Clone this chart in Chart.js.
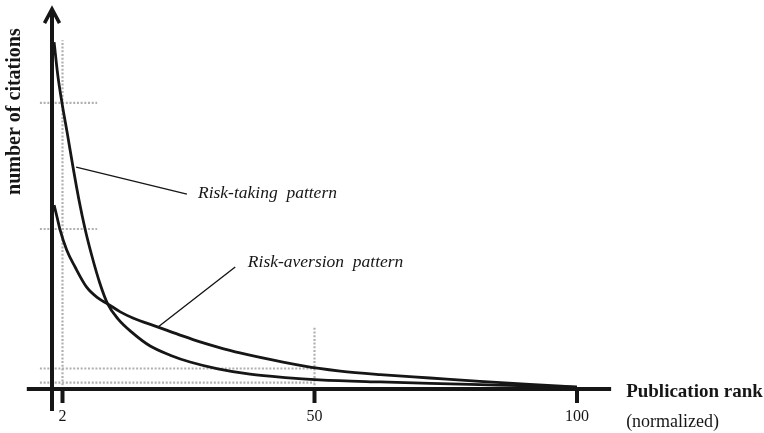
<!DOCTYPE html>
<html>
<head>
<meta charset="utf-8">
<script src="https://cdn.jsdelivr.net/npm/chart.js@4/dist/chart.umd.min.js"></script>
<style>
  html, body { margin: 0; padding: 0; background: #fff; }
</style>
</head>
<body>
<canvas id="chart" width="764" height="433"></canvas>
<script>
// publication rank (normalized) vs number of citations
const riskTakingX   = [0.4, 1.1, 1.9, 2.9, 4.0, 5.1, 6.3, 7.6, 9.1, 10.6, 12.6, 15.4, 18.7, 22.5, 26.3, 31.6, 37.7, 44.4, 50.9, 62.5, 72, 81.5, 91, 100];
const riskTakingY   = [91.3, 82.6, 75.3, 67.4, 58.4, 50.0, 42.1, 35.0, 27.9, 22.4, 18.4, 14.7, 11.3, 8.9, 7.1, 5.3, 3.9, 3.0, 2.4, 1.85, 1.5, 1.15, 0.8, 0.5];
const riskAversionX = [0.4, 1.0, 1.5, 2.8, 4.4, 6.6, 8.8, 10.6, 13.0, 15.4, 20.2, 25.0, 28.2, 31.4, 35.8, 44.0, 50.9, 54.9, 62.5, 72, 81.5, 91, 100];
const riskAversionY = [48.4, 45.0, 42.1, 36.6, 32.1, 26.8, 23.9, 22.4, 20.3, 18.7, 16.3, 13.9, 12.4, 11.1, 9.5, 7.1, 5.4, 4.7, 3.8, 2.9, 2.0, 1.2, 0.5];

const xTickValues = [2, 50, 100];
const xTickLabels = ['2', '50', '100'];

// dotted guides: vertical ones at ranks 2 and 50, horizontal ones at the curve levels there
const guideRanks = [2, 50];
const guideTops = [91.8, 16.3];
const guideLevelsAt2 = [75.3, 42.1];
const guideLevelsAt50 = [5.4, 1.7];

const xTitle = 'Publication rank';
const xSubtitle = '(normalized)';
const yTitle = 'number of citations';
const riskTakingLabel = 'Risk-taking  pattern';
const riskAversionLabel = 'Risk-aversion  pattern';

const serif = '"Liberation Serif", "DejaVu Serif", serif';
const ink = '#161616';
const guideColor = '#b0b0b0';

function toPoints(xs, ys) {
    return xs.map((x, i) => ({x: x, y: ys[i]}));
}

function guideLine(pts) {
    return {
        data: pts, showLine: true, pointRadius: 0, borderColor: guideColor,
        borderWidth: 2.2, borderDash: [2, 1.7], order: 2, tension: 0
    };
}

function guideSets() {
    const sets = [];
    guideRanks.forEach((r, i) => {
        sets.push(guideLine([{x: r, y: 0}, {x: r, y: guideTops[i]}]));
    });
    guideLevelsAt2.forEach(v => sets.push(guideLine([{x: -2.3, y: v}, {x: 8.6, y: v}])));
    guideLevelsAt50.forEach(v => sets.push(guideLine([{x: -2.3, y: v}, {x: 50, y: v}])));
    return sets;
}

const decorations = {
    id: 'decorations',
    afterDatasetsDraw(chart) {
        const ctx = chart.ctx;
        const xs = chart.scales.x, ys = chart.scales.y;
        const px = v => xs.getPixelForValue(v);
        const py = v => ys.getPixelForValue(v);
        const x0 = px(0), y0 = py(0);

        ctx.save();
        ctx.strokeStyle = ink;
        ctx.fillStyle = ink;

        // axes
        ctx.lineWidth = 4;
        ctx.beginPath();
        ctx.moveTo(px(-4.8), y0); ctx.lineTo(px(106.5), y0);
        ctx.moveTo(x0, py(-5.8)); ctx.lineTo(x0, py(99.5));
        ctx.stroke();

        // arrow head on the y axis
        ctx.lineWidth = 3.6;
        ctx.lineJoin = 'miter';
        ctx.beginPath();
        ctx.moveTo(x0 - 7.5, py(96.3));
        ctx.lineTo(x0, py(100));
        ctx.lineTo(x0 + 7.5, py(96.3));
        ctx.stroke();

        // tick marks and labels
        ctx.lineWidth = 4;
        ctx.font = '16px ' + serif;
        ctx.textAlign = 'center';
        ctx.textBaseline = 'middle';
        xTickValues.forEach((v, i) => {
            ctx.beginPath();
            ctx.moveTo(px(v), y0);
            ctx.lineTo(px(v), y0 + 14);
            ctx.stroke();
            ctx.fillText(xTickLabels[i], px(v), y0 + 28);
        });

        // axis titles
        ctx.textAlign = 'left';
        ctx.font = 'bold 19px ' + serif;
        ctx.fillText(xTitle, px(106.5) + 15, y0 + 3);
        ctx.font = '18px ' + serif;
        ctx.fillText(xSubtitle, px(106.5) + 15, y0 + 33);

        ctx.save();
        ctx.translate(15, py(73));
        ctx.rotate(-Math.PI / 2);
        ctx.textAlign = 'center';
        ctx.font = 'bold 20px ' + serif;
        ctx.fillText(yTitle, 0, 0);
        ctx.restore();

        // leader lines and pattern labels
        ctx.lineWidth = 1.4;
        ctx.beginPath();
        ctx.moveTo(px(4.6), py(58.4)); ctx.lineTo(px(25.7), py(51.3));
        ctx.moveTo(px(20.2), py(16.3)); ctx.lineTo(px(34.9), py(32.1));
        ctx.stroke();

        ctx.font = 'italic 17.5px ' + serif;
        ctx.textAlign = 'left';
        ctx.fillText(riskTakingLabel, px(27.8), py(51.6));
        ctx.fillText(riskAversionLabel, px(37.3), py(33.2));
        ctx.restore();
    }
};

new Chart(document.getElementById('chart').getContext('2d'), {
    type: 'scatter',
    data: {
        datasets: [
            {
                label: 'Risk-taking pattern',
                data: toPoints(riskTakingX, riskTakingY),
                showLine: true, pointRadius: 0, borderColor: ink, borderWidth: 2.8,
                cubicInterpolationMode: 'monotone', order: 1
            },
            {
                label: 'Risk-aversion pattern',
                data: toPoints(riskAversionX, riskAversionY),
                showLine: true, pointRadius: 0, borderColor: ink, borderWidth: 2.8,
                cubicInterpolationMode: 'monotone', order: 1
            }
        ].concat(guideSets())
    },
    options: {
        responsive: false,
        animation: false,
        devicePixelRatio: 1,
        layout: {padding: {left: 4.75, right: 82, top: 9, bottom: 6}},
        scales: {
            x: {type: 'linear', min: -9, max: 120, display: false},
            y: {type: 'linear', min: -10, max: 100, display: false}
        },
        plugins: {legend: {display: false}, tooltip: {enabled: false}}
    },
    plugins: [decorations]
});
</script>
</body>
</html>
